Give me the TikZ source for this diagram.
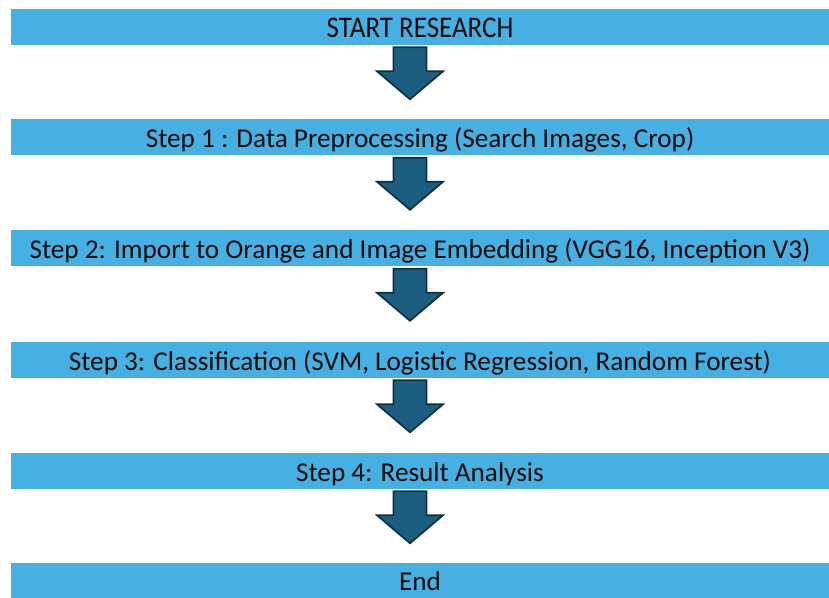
\documentclass[tikz,border=0pt]{standalone}
\usepackage{fontspec}
\setmainfont{Carlito}
\newfontfamily\narrowfont[FakeStretch=0.9]{Carlito}
\usetikzlibrary{calc}
\definecolor{barblue}{RGB}{69,176,225}
\definecolor{arrowfill}{RGB}{27,94,128}
\definecolor{arrowline}{RGB}{14,48,68}
\definecolor{txt}{RGB}{10,10,10}
\tikzset{
  bar/.style={rectangle, fill=barblue, draw=none, inner sep=0pt,
    minimum width=613.5pt, minimum height=27pt, text=txt,
    text height=18pt, text depth=2.5pt,
    font=\fontsize{20.4pt}{23pt}\selectfont},
  blk/.style={fill=arrowfill, draw=arrowline, line width=1.3pt, line join=miter},
}
\begin{document}
\begin{tikzpicture}[x=0.75pt,y=-0.75pt]
\useasboundingbox (0,0) rectangle (829,598);
\node[bar] (b0) at (420,27) {\narrowfont\fontsize{22.5pt}{25pt}\selectfont START RESEARCH};
\node[bar] (b1) at (420,137.5) {Step 1 : Data Preprocessing (Search Images, Crop)};
\node[bar] (b2) at (420,248.5) {Step 2: Import to Orange and Image Embedding (VGG16, Inception V3)};
\node[bar] (b3) at (420,360) {Step 3: Classification (SVM, Logistic Regression, Random Forest)};
\node[bar] (b4) at (420,471) {Step 4: Result Analysis};
\node[bar, minimum height=26.25pt] (b5) at (420,580.5) {End};
\foreach \a in {b0,b1,b2,b3,b4}{
  \coordinate (top) at ($(\a.south)+(-10,2)$);
  \draw[blk] ($(top)+(-16.5,0)$) -- ($(top)+(16.5,0)$) -- ($(top)+(16.5,24)$)
    -- ($(top)+(33,24)$) -- ($(top)+(0,52)$) -- ($(top)+(-33,24)$)
    -- ($(top)+(-16.5,24)$) -- cycle;
}
\end{tikzpicture}
\end{document}
